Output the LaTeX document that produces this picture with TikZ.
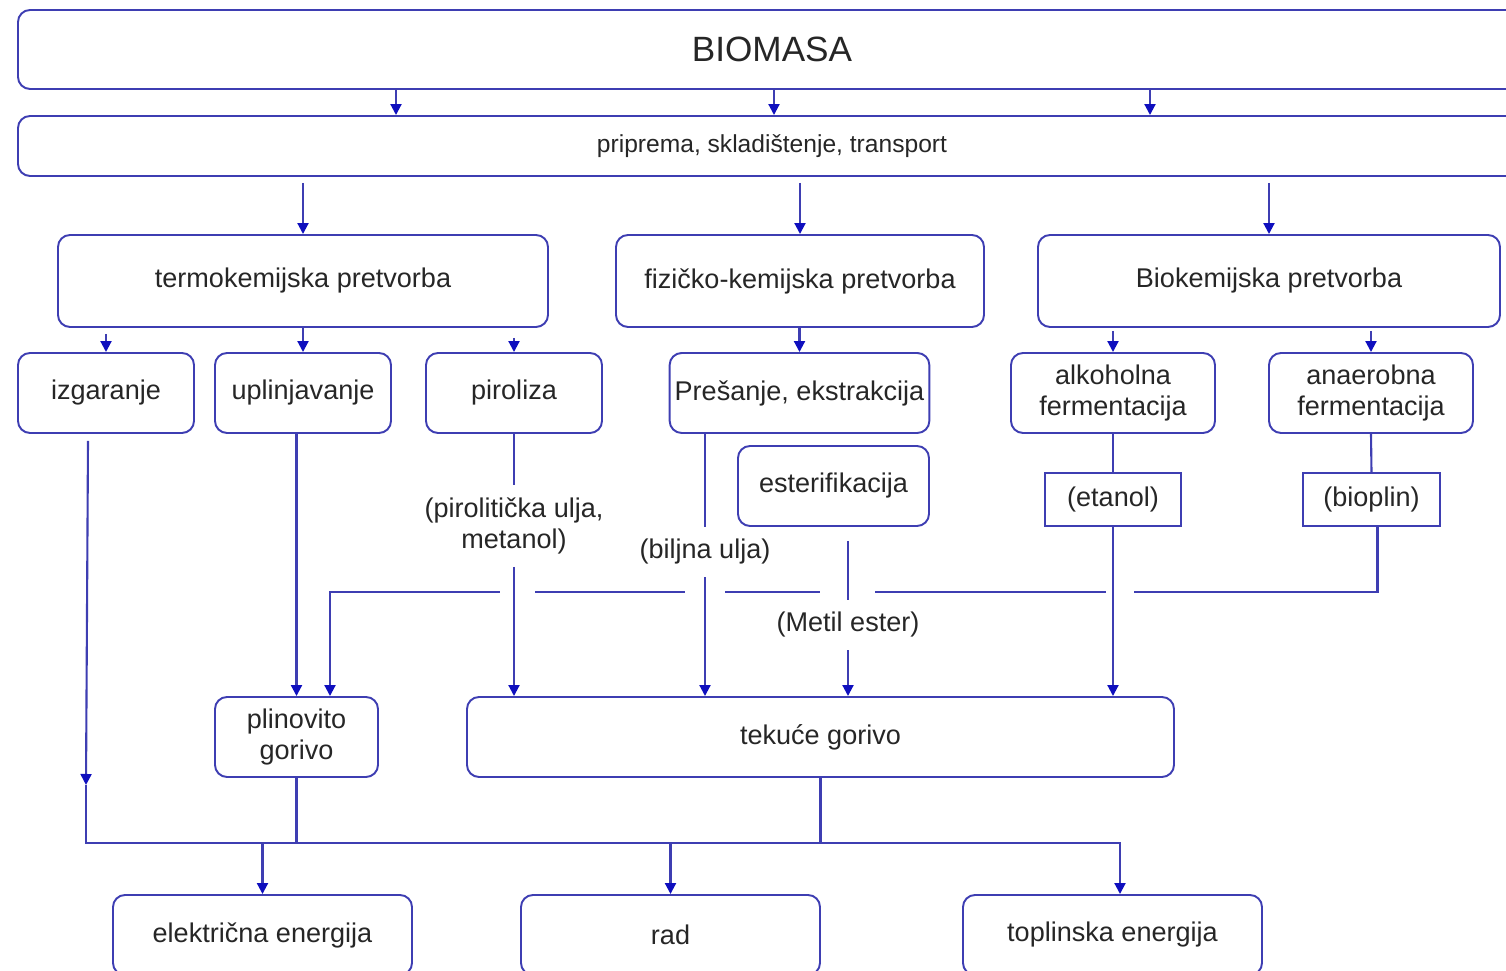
\documentclass[tikz,border=0pt]{standalone}
\usepackage{fontspec}
\setmainfont{Liberation Sans}
\usetikzlibrary{arrows.meta}
\definecolor{flowblue}{RGB}{62,62,178}
\definecolor{tipblue}{RGB}{15,15,190}
\definecolor{textgray}{RGB}{38,38,38}
\begin{document}
\begin{tikzpicture}[
        box/.style={rectangle, draw=flowblue, rounded corners=1.2mm, align=center, line width=0.55pt, inner sep=0.5mm, text=textgray, font=\fontsize{7.7}{8.8}\selectfont},
        sharpbox/.style={box, sharp corners},
        lbl/.style={rectangle, align=center, inner sep=1.2mm, text=textgray, font=\fontsize{7.7}{8.8}\selectfont},
        line/.style={draw=flowblue, line width=0.6pt},
        arrow/.style={line, -{Triangle[length=1.1mm, width=1.1mm, color=tipblue]}}
    ]
        \clip (0,0) rectangle (15.06,-9.71);

        \node[box, minimum width=15.08cm, minimum height=7.9mm, font=\fontsize{10}{12}\selectfont] (biomasa) at (7.72,-0.495) {BIOMASA};
        \node[box, minimum width=15.08cm, minimum height=6mm, font=\fontsize{7}{8.4}\selectfont] (priprema) at (7.72,-1.46) {priprema, skladištenje, transport};

        \node[box, minimum width=4.90cm, minimum height=9.2mm] (termo)   at (3.03,-2.81)  {termokemijska pretvorba};
        \node[box, minimum width=3.68cm, minimum height=9.2mm] (fizicko) at (8.00,-2.81)  {fizičko-kemijska pretvorba};
        \node[box, minimum width=4.62cm, minimum height=9.2mm] (bio)     at (12.69,-2.81) {Biokemijska pretvorba};

        \node[box, minimum width=1.76cm, minimum height=8mm] (izgar)    at (1.06,-3.93)  {izgaranje};
        \node[box, minimum width=1.76cm, minimum height=8mm] (uplin)    at (3.03,-3.93)  {uplinjavanje};
        \node[box, minimum width=1.76cm, minimum height=8mm] (piro)     at (5.14,-3.93)  {piroliza};
        \node[box, minimum width=2.59cm, minimum height=8mm] (presanje) at (7.995,-3.93) {Prešanje, ekstrakcija};
        \node[box, minimum width=2.04cm, minimum height=8mm] (alko)     at (11.13,-3.93) {alkoholna\\fermentacija};
        \node[box, minimum width=2.04cm, minimum height=8mm] (anaer)    at (13.71,-3.93) {anaerobna\\fermentacija};

        \node[box, minimum width=1.91cm, minimum height=8mm] (ester) at (8.335,-4.86) {esterifikacija};
        \node[sharpbox, minimum width=1.36cm, minimum height=5.3mm] (etanol)  at (11.13,-4.995)  {(etanol)};
        \node[sharpbox, minimum width=1.37cm, minimum height=5.3mm] (bioplin) at (13.715,-4.995) {(bioplin)};

        \node[lbl] (lpiro)   at (5.14,-5.26) {(pirolitička ulja,\\metanol)};
        \node[lbl] (lbiljna) at (7.05,-5.52) {(biljna ulja)};
        \node[lbl] (lmetil)  at (8.48,-6.25) {(Metil ester)};

        \node[box, minimum width=1.63cm, minimum height=8mm] (plin)   at (2.965,-7.37) {plinovito\\gorivo};
        \node[box, minimum width=7.07cm, minimum height=8mm] (tekuce) at (8.205,-7.37) {tekuće gorivo};

        \node[box, minimum width=2.99cm, minimum height=8mm] (elek) at (2.625,-9.35)  {električna energija};
        \node[box, minimum width=2.99cm, minimum height=8mm] (rad)  at (6.705,-9.35)  {rad};
        \node[box, minimum width=2.99cm, minimum height=8mm] (topl) at (11.125,-9.35) {toplinska energija};

        \coordinate (izgarEnd) at (0.86,-7.85);
        \coordinate (cross) at (0,-5.92);
        \coordinate (bus) at (0,-8.43);

        \foreach \x in {3.96,7.74,11.50}
            \draw[arrow] (biomasa.south -| \x,0) -- (priprema.north -| \x,0);
        \foreach \n in {termo,fizicko,bio}
            \draw[arrow] ([yshift=-0.6mm]priprema.south -| \n.north) -- (\n.north);

        \draw[arrow] ([yshift=-0.6mm]termo.south -| izgar.north) -- (izgar.north);
        \draw[arrow] (termo.south) -- (uplin.north);
        \draw[arrow] ([yshift=-1mm]termo.south -| piro.north) -- (piro.north);
        \draw[arrow] (fizicko.south -| presanje.north) -- (presanje.north);
        \draw[arrow] ([yshift=-0.3mm]bio.south -| alko.north) -- (alko.north);
        \draw[arrow] ([yshift=-0.3mm]bio.south -| anaer.north) -- (anaer.north);

        \draw[line] (alko.south) -- (etanol.north);
        \draw[line] (anaer.south) -- (bioplin.north);

        \draw[arrow] ([xshift=0.6mm]bioplin.south) |- ([xshift=3.35mm]plin.north |- cross) -- ([xshift=3.35mm]plin.north);
        \foreach \x/\w in {5.175/0.175, 7.05/0.2, 8.475/0.275, 11.2/0.14}
            \fill[white] (\x-\w,-5.88) rectangle (\x+\w,-5.96);

        \draw[arrow] ([yshift=-0.7mm]izgar.south -| 0.88,0) -- (izgarEnd);
        \draw[arrow] (uplin.south -| plin.north) -- (plin.north);
        \draw[line] (piro.south) -- (lpiro);
        \draw[arrow] (lpiro) -- (lpiro |- tekuce.north);
        \draw[line] (presanje.south -| lbiljna) -- (lbiljna);
        \draw[arrow] (lbiljna) -- (lbiljna |- tekuce.north);
        \draw[line] ([yshift=-1.4mm]ester.south -| lmetil) -- (lmetil);
        \draw[arrow] (lmetil) -- (lmetil |- tekuce.north);
        \draw[arrow] (etanol.south) -- (etanol.south |- tekuce.north);

        \draw[arrow] (izgarEnd) |- ([xshift=0.75mm]topl.north |- bus) -- ([xshift=0.75mm]topl.north);
        \draw[line] (plin.south) -- (plin.south |- bus);
        \draw[line] (tekuce.south) -- (tekuce.south |- bus);
        \draw[arrow] (bus -| elek.north) -- (elek.north);
        \draw[arrow] (bus -| rad.north) -- (rad.north);
    \end{tikzpicture}
\end{document}
